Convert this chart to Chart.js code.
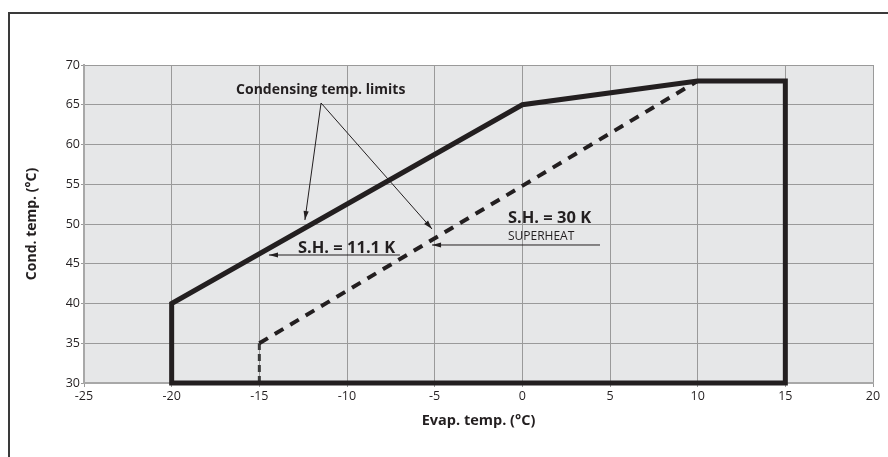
<!DOCTYPE html>
<html>
<head>
<meta charset="utf-8">
<script src="https://cdn.jsdelivr.net/npm/chart.js@4.4.1/dist/chart.umd.min.js"></script>
<style>
  body { margin: 0; background: #fff; }
  canvas { display: block; }
</style>
</head>
<body>
<canvas id="myChart" width="888" height="457"></canvas>
<script>
// operating envelope (solid) and S.H. = 30 K limit (dashed)
const envelopeEvap = [-20, -20, 0, 10, 15, 15, -20];
const envelopeCond = [30, 40, 65, 68, 68, 30, 30];
const sh30Evap = [-15, 10];
const sh30Cond = [35, 68];
const sh30StubEvap = [-15, -15];
const sh30StubCond = [30, 35];

const xMin = -25, xMax = 20, xStep = 5;
const yMin = 30, yMax = 70, yStep = 5;

const FONT = '"Open Sans", Lato, sans-serif';
const INK = '#231f20';

function points(xs, ys) {
    return xs.map((x, i) => ({ x: x, y: ys[i] }));
}

// callouts, in data units
const notes = [
    { text: 'Condensing temp. limits', x: -11.5, y: 66.86, align: 'center', font: 'bold 14px ' + FONT },
    { text: 'S.H. = 30 K', x: -0.82, y: 50.75, align: 'left', font: 'bold 16.5px ' + FONT },
    { text: 'SUPERHEAT', x: -0.82, y: 48.36, align: 'left', font: '12px ' + FONT },
    { text: 'S.H. = 11.1 K', x: -12.8, y: 46.98, align: 'left', font: 'bold 16.5px ' + FONT }
];
const arrows = [
    { from: [-11.48, 65.22], to: [-12.40, 50.5] },
    { from: [-11.48, 65.22], to: [-5.15, 49.37] },
    { from: [4.43, 47.36], to: [-5.15, 47.36] },
    { from: [-6.98, 46.1], to: [-14.45, 46.1] }
];

const backdrop = {
    id: 'backdrop',
    beforeDraw(chart) {
        const ctx = chart.ctx, a = chart.chartArea;
        ctx.save();
        ctx.fillStyle = '#ffffff';
        ctx.fillRect(0, 0, chart.width, chart.height);
        ctx.fillStyle = '#e6e7e8';
        ctx.fillRect(a.left, a.top, a.right - a.left, a.bottom - a.top);
        // outer frame
        ctx.strokeStyle = '#3a3a3a';
        ctx.lineWidth = 2;
        ctx.beginPath();
        ctx.moveTo(9, chart.height);
        ctx.lineTo(9, 13);
        ctx.lineTo(chart.width, 13);
        ctx.stroke();
        ctx.restore();
    }
};

const callouts = {
    id: 'callouts',
    afterDatasetsDraw(chart) {
        const ctx = chart.ctx, sx = chart.scales.x, sy = chart.scales.y;
        ctx.save();
        ctx.strokeStyle = INK;
        ctx.fillStyle = INK;
        ctx.lineWidth = 1;
        arrows.forEach(a => {
            const x1 = sx.getPixelForValue(a.from[0]), y1 = sy.getPixelForValue(a.from[1]);
            const x2 = sx.getPixelForValue(a.to[0]), y2 = sy.getPixelForValue(a.to[1]);
            ctx.beginPath();
            ctx.moveTo(x1, y1);
            ctx.lineTo(x2, y2);
            ctx.stroke();
            const ang = Math.atan2(y2 - y1, x2 - x1);
            const len = 9, half = 2.6;
            ctx.beginPath();
            ctx.moveTo(x2, y2);
            ctx.lineTo(x2 - len * Math.cos(ang) + half * Math.sin(ang), y2 - len * Math.sin(ang) - half * Math.cos(ang));
            ctx.lineTo(x2 - len * Math.cos(ang) - half * Math.sin(ang), y2 - len * Math.sin(ang) + half * Math.cos(ang));
            ctx.closePath();
            ctx.fill();
        });
        ctx.textBaseline = 'middle';
        notes.forEach(n => {
            ctx.font = n.font;
            ctx.textAlign = n.align;
            ctx.fillText(n.text, sx.getPixelForValue(n.x), sy.getPixelForValue(n.y));
        });
        ctx.restore();
    }
};

const data = {
    datasets: [{
        label: 'Envelope',
        data: points(envelopeEvap, envelopeCond),
        showLine: true,
        borderColor: INK,
        borderWidth: 5,
        borderJoinStyle: 'miter',
        borderCapStyle: 'square',
        pointRadius: 0,
        clip: false
    }, {
        label: 'S.H. 30 K',
        data: points(sh30Evap, sh30Cond),
        showLine: true,
        borderColor: INK,
        borderWidth: 4,
        borderDash: [10, 8],
        pointRadius: 0,
        clip: false
    }, {
        label: 'S.H. 30 K stub',
        data: points(sh30StubEvap, sh30StubCond),
        showLine: true,
        borderColor: '#3a3a3a',
        borderWidth: 3,
        borderDash: [7, 4],
        pointRadius: 0,
        clip: false
    }]
};

const config = {
    type: 'scatter',
    data: data,
    plugins: [backdrop, callouts],
    options: {
        responsive: false,
        animation: false,
        devicePixelRatio: 1,
        layout: { padding: { top: 65, right: 15, left: 0, bottom: 0 } },
        plugins: { legend: { display: false }, tooltip: { enabled: false } },
        scales: {
            x: {
                type: 'linear',
                min: xMin, max: xMax,
                afterFit(scale) { scale.height = 74; },
                ticks: { stepSize: xStep, color: INK, font: { family: FONT, size: 12.5 }, padding: 2, maxRotation: 0 },
                grid: { color: '#9a9a9a', lineWidth: 1, tickLength: 4 },
                border: { color: '#a8a8a8', width: 2 },
                title: {
                    display: true, text: 'Evap. temp. (°C)', color: INK,
                    font: { family: FONT, size: 14.5, weight: 'bold' },
                    padding: { top: 0, bottom: 27 }
                }
            },
            y: {
                type: 'linear',
                min: yMin, max: yMax,
                afterFit(scale) { scale.width = 84; },
                ticks: { stepSize: yStep, color: INK, font: { family: FONT, size: 12.5 }, padding: 1 },
                grid: { color: '#9a9a9a', lineWidth: 1, tickLength: 3 },
                border: { color: '#a8a8a8', width: 2 },
                title: {
                    display: true, text: 'Cond. temp. (°C)', color: INK,
                    font: { family: FONT, size: 14, weight: 'bold' },
                    padding: { top: 24, bottom: 0 }
                }
            }
        }
    }
};

const myChart = new Chart(document.getElementById('myChart'), config);
</script>
</body>
</html>
